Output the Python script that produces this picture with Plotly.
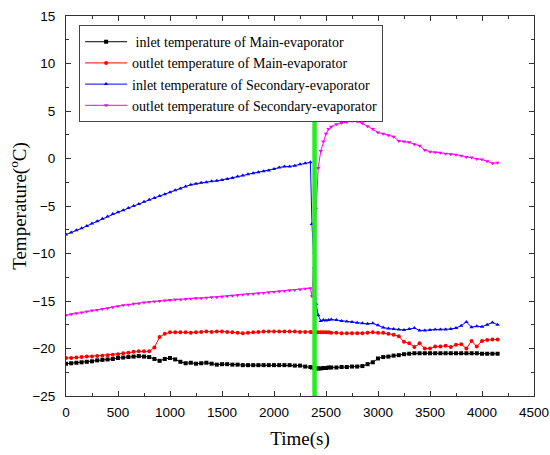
import plotly.graph_objects as go

# Shared time axis (s)
time_s = ([t for t in range(0, 2351, 50)] +
          [2365, 2385, 2405, 2425, 2450, 2475, 2500, 2525] +
          [t for t in range(2550, 4151, 50)])

inlet_main = [
    -21.6, -21.55, -21.5, -21.45, -21.4, -21.35, -21.25, -21.2, -21.15, -21.1,
    -21.0, -20.95, -20.9, -20.85, -20.8, -20.85, -20.9, -21.1, -21.3, -21.1,
    -21.0, -21.15, -21.4, -21.55, -21.5, -21.6, -21.55, -21.5, -21.6, -21.7,
    -21.65, -21.65, -21.7, -21.7, -21.75, -21.75, -21.75, -21.75, -21.75, -21.75,
    -21.75, -21.75, -21.75, -21.75, -21.8, -21.8, -21.9, -21.95,
    -22.0, -22.05, -22.1, -22.1, -22.1, -22.05, -22.05, -22.0,
    -22.0, -22.0, -21.95, -21.95, -21.9, -21.9, -21.85, -21.65, -21.45, -21.05,
    -20.9, -20.85, -20.75, -20.7, -20.6, -20.55, -20.5, -20.5, -20.5, -20.5,
    -20.5, -20.5, -20.5, -20.5, -20.5, -20.5, -20.5, -20.5, -20.5, -20.55,
    -20.55, -20.55, -20.55,
]

outlet_main = [
    -21.0, -21.0, -20.95, -20.9, -20.85, -20.85, -20.8, -20.75, -20.7, -20.65,
    -20.6, -20.5, -20.45, -20.35, -20.3, -20.3, -20.3, -19.9, -18.8, -18.45,
    -18.3, -18.3, -18.3, -18.3, -18.35, -18.3, -18.25, -18.2, -18.25, -18.2,
    -18.2, -18.25, -18.3, -18.35, -18.4, -18.35, -18.3, -18.25, -18.2, -18.2,
    -18.2, -18.2, -18.2, -18.2, -18.2, -18.25, -18.25, -18.25,
    -18.3, -18.3, -18.3, -18.3, -18.3, -18.3, -18.3, -18.3,
    -18.35, -18.35, -18.4, -18.4, -18.4, -18.4, -18.4, -18.35, -18.3, -18.35,
    -18.35, -18.45, -18.55, -18.7, -19.3, -19.45, -19.85, -19.45, -20.0, -20.0,
    -19.8, -19.8, -19.7, -19.85, -19.6, -19.55, -20.0, -19.2, -19.8, -19.2,
    -19.1, -19.05, -19.05,
]

inlet_secondary = [
    -8.0, -7.8, -7.55, -7.35, -7.1, -6.85, -6.6, -6.35, -6.1, -5.85,
    -5.65, -5.45, -5.2, -5.0, -4.8, -4.55, -4.35, -4.15, -3.95, -3.75,
    -3.55, -3.35, -3.15, -2.95, -2.75, -2.65, -2.55, -2.5, -2.4, -2.35,
    -2.25, -2.15, -2.05, -1.9, -1.8, -1.65, -1.55, -1.45, -1.35, -1.25,
    -1.1, -0.95, -0.85, -0.85, -0.75, -0.6, -0.5, -0.4,
    -6.9, -11.5, -15.3, -16.5, -17.1, -17.0, -17.05, -17.0,
    -16.95, -17.0, -17.1, -17.15, -17.2, -17.3, -17.35, -17.4, -17.35, -17.55,
    -17.8, -17.9, -17.95, -18.0, -18.05, -17.95, -17.85, -18.1, -18.1, -18.05,
    -18.0, -18.0, -18.0, -17.95, -17.85, -17.6, -17.2, -17.75, -17.65, -17.7,
    -17.5, -17.25, -17.5,
]

outlet_secondary = [
    -16.5, -16.4, -16.3, -16.2, -16.1, -16.0, -15.95, -15.85, -15.75, -15.65,
    -15.55, -15.45, -15.4, -15.3, -15.25, -15.15, -15.1, -15.05, -15.0, -14.95,
    -14.9, -14.85, -14.85, -14.8, -14.75, -14.7, -14.7, -14.65, -14.6, -14.6,
    -14.55, -14.5, -14.45, -14.4, -14.35, -14.3, -14.25, -14.2, -14.15, -14.1,
    -14.05, -14.0, -13.95, -13.9, -13.85, -13.8, -13.7, -13.65,
    -14.5, -10.0, -5.3, -1.0, 0.8, 1.8, 2.6, 3.1,
    3.35, 3.6, 3.75, 3.85, 3.95, 3.9, 3.7, 3.4, 3.1, 2.75,
    2.6, 2.45, 2.3, 1.85, 1.8, 1.7, 1.5, 1.35, 0.9, 0.7,
    0.65, 0.6, 0.5, 0.45, 0.4, 0.3, 0.15, 0.1, -0.05, -0.1,
    -0.3, -0.5, -0.45,
]

# Green switching marker line
switch_x = [2390, 2390]
switch_y = [-25, 4.3]

series_names = [
    " inlet temperature of Main-evaporator",
    "outlet temperature of Main-evaporator",
    "inlet temperature of Secondary-evaporator",
    "outlet temperature of Secondary-evaporator",
]
series_values = [inlet_main, outlet_main, inlet_secondary, outlet_secondary]
series_colors = ["#000000", "#ff0000", "#0000ff", "#ff00ff"]
series_symbols = ["square", "circle", "triangle-up", "triangle-down"]

fig = go.Figure()
for i, (name, vals, col, sym) in enumerate(zip(series_names, series_values, series_colors, series_symbols)):
    fig.add_trace(go.Scatter(
        x=time_s, y=vals, mode="lines+markers", name=name,
        legendgroup=f"g{i}",
        line=dict(color=col, width=1),
        marker=dict(color=col, symbol=sym, size=4),
    ))

fig.add_trace(go.Scatter(
    x=switch_x, y=switch_y, mode="lines", showlegend=False,
    line=dict(color="#22ee22", width=4.5), hoverinfo="skip",
))

axis_common = dict(
    showline=True, linecolor="#333333", linewidth=1, mirror="ticks",
    ticks="inside", ticklen=5, tickcolor="#333333", tickwidth=1,
    showgrid=False, zeroline=False, automargin=False,
    tickfont=dict(family="Liberation Sans, Arial", size=13.5, color="black"),
)

title_font = dict(family="Liberation Serif, Times New Roman", size=19, color="black")

fig.update_layout(
    width=550, height=455,
    margin=dict(l=66, r=16, t=16, b=59),
    plot_bgcolor="white", paper_bgcolor="white",
    showlegend=True,
    legend=dict(
        x=0.028, y=0.976, xanchor="left", yanchor="top",
        bgcolor="white", bordercolor="#444444", borderwidth=1,
        font=dict(family="Liberation Serif, Times New Roman", size=14, color="black"),
        traceorder="grouped", tracegroupgap=0, itemwidth=42,
    ),
    xaxis=dict(
        range=[0, 4500], dtick=500, tick0=0,
        minor=dict(dtick=250, ticks="inside", ticklen=3, tickcolor="#333333"),
        title=dict(text="Time(s)", font=title_font, standoff=12),
        ticklabelstandoff=4,
        **axis_common,
    ),
    yaxis=dict(
        range=[-25, 15], dtick=5, tick0=0,
        minor=dict(dtick=2.5, ticks="inside", ticklen=3, tickcolor="#333333"),
        title=dict(text="Temperature(<sup>o</sup>C)", font=title_font, standoff=0),
        ticklabelstandoff=7,
        **axis_common,
    ),
)

fig.write_html("out.html")
